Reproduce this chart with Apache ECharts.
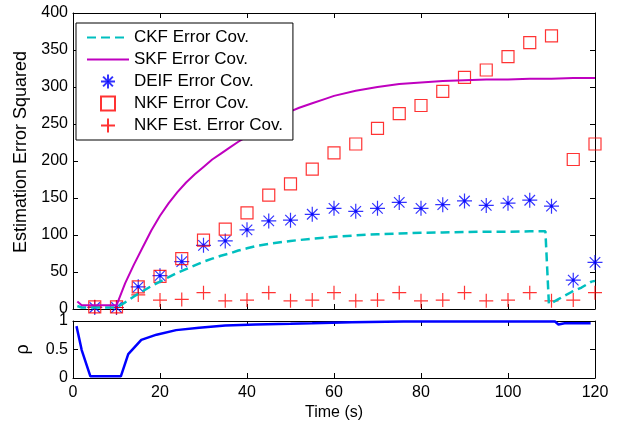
<!DOCTYPE html>
<html>
<head>
<meta charset="utf-8">
<script src="https://cdn.jsdelivr.net/npm/echarts@6/dist/echarts.min.js"></script>
<style>
  html, body { margin: 0; padding: 0; background: #fff; }
  #chart { width: 624px; height: 428px; }
</style>
</head>
<body>
<div id="chart"></div>
<script>
// SKF error covariance (solid magenta)
var tSkf = [1, 2, 3, 4, 5, 6, 7, 8, 9, 10, 12, 14, 16, 18, 20, 22, 24, 26, 28, 30, 32, 34, 36, 38, 40, 42, 45, 48, 50, 52, 55, 58, 60, 65, 70, 75, 80, 85, 90, 95, 100, 105, 110, 115, 120];
var skf = [10, 5, 5, 5, 5, 5, 5, 5, 5, 5, 35, 60, 83, 106, 126, 143, 158, 171, 182, 192, 202, 210, 218, 226, 233, 239, 250, 261, 267, 272, 278, 284, 288, 295, 300, 304, 306, 308, 309, 310, 310, 311, 311, 312, 312];

// CKF error covariance (dashed cyan)
var tCkf = [1, 2, 4, 6, 8, 10, 12, 14, 16, 18, 20, 22, 24, 26, 28, 30, 32, 34, 36, 38, 40, 42, 45, 50, 55, 60, 65, 70, 75, 80, 85, 90, 95, 100, 105, 108.6, 109.4, 110.3, 111.5, 113, 114.6, 116.9, 119.2, 120];
var ckf = [4, 2, 2, 2, 2, 2, 9, 17, 24, 31, 37, 43, 49, 54, 59, 64, 68, 72, 75, 79, 82, 85, 88, 92, 95, 97.5, 99.5, 101, 102, 103, 103.5, 104, 104.5, 104.5, 105, 105, 7, 9, 13, 18, 23, 29, 37, 38];

// marker series, sampled every 5 s
var tMarks = [5, 10, 15, 20, 25, 30, 35, 40, 45, 50, 55, 60, 65, 70, 75, 80, 85, 90, 95, 100, 105, 110, 115, 120];
var deif = [2, 2, 30, 45, 64, 86, 92, 107, 119, 120, 128, 136, 132, 136, 144, 136, 141, 146, 140, 143, 147, 139, 39, 63];
var nkf = [3, 3, 30, 44, 68, 93, 108, 130, 154, 169, 189, 211, 223, 244, 264, 275, 294, 313, 323, 341, 360, 369, 202, 223];
var nkfEst = [3, 2, 19, 12, 13, 22, 11, 12, 22, 11, 12, 22, 11, 12, 22, 11, 12, 22, 11, 12, 22, 11, 12, 22];

// correlation coefficient rho (lower panel)
var tRho = [0.8, 2, 4, 11, 12.7, 15.7, 19.2, 23.7, 29, 35, 42, 50, 55, 64, 76, 90, 100, 110.8, 111.6, 113, 119];
var rho = [0.91, 0.49, 0.03, 0.03, 0.42, 0.67, 0.76, 0.84, 0.88, 0.92, 0.94, 0.95, 0.96, 0.98, 0.99, 0.99, 0.99, 0.99, 0.94, 0.96, 0.96];

function pairs(xs, ys) {
  return xs.map(function (x, i) { return [x, ys[i]]; });
}

var font = 'Liberation Sans, Arial, Helvetica, sans-serif';
// asterisk with a small filled centre, plus sign, open square
var asterisk = 'path://M0,-10L0,10M-10,0L10,0M-7,-7L7,7M-7,7L7,-7M-1.6,-1.6L1.6,-1.6L1.6,1.6L-1.6,1.6Z';
var plus = 'path://M0,-10L0,10M-10,0L10,0';
var square = 'path://M-10,-10L10,-10L10,10L-10,10Z';
var hidden = { color: 'rgba(0,0,0,0)', borderColor: 'rgba(0,0,0,0)', borderWidth: 0 };

function xAx(grid, pos, labels) {
  return {
    type: 'value', gridIndex: grid, position: pos, min: 0, max: 120, interval: 20,
    axisLine: { show: true, onZero: false, lineStyle: { color: '#000', width: 1 } },
    axisTick: { show: true, inside: true, length: 5, lineStyle: { color: '#000' } },
    axisLabel: { show: labels, color: '#000', fontFamily: font, fontSize: 16, margin: 7 },
    splitLine: { show: false }
  };
}
function yAx(grid, pos, max, step, labels) {
  return {
    type: 'value', gridIndex: grid, position: pos, min: 0, max: max, interval: step,
    axisLine: { show: true, onZero: false, lineStyle: { color: '#000', width: 1 } },
    axisTick: { show: true, inside: true, length: 5, lineStyle: { color: '#000' } },
    axisLabel: { show: labels, color: '#000', fontFamily: font, fontSize: 16, margin: 5 },
    splitLine: { show: false }
  };
}

var chart = echarts.init(document.getElementById('chart'), null, { renderer: 'canvas' });

var xTopB = xAx(0, 'bottom', false);
var xTopT = xAx(0, 'top', false);
var xBotB = xAx(1, 'bottom', true);
xBotB.name = 'Time (s)';
xBotB.nameLocation = 'middle';
xBotB.nameGap = 27;
xBotB.nameTextStyle = { color: '#000', fontFamily: font, fontSize: 16 };
var xBotT = xAx(1, 'top', false);

var yTopL = yAx(0, 'left', 400, 50, true);
yTopL.name = 'Estimation Error Squared';
yTopL.nameLocation = 'middle';
yTopL.nameGap = 41;
// a little left padding lifts the label the way the original sits
yTopL.nameTextStyle = { color: '#000', fontFamily: font, fontSize: 18, padding: [0, 0, 0, 18] };
var yTopR = yAx(0, 'right', 400, 50, false);
var yBotL = yAx(1, 'left', 1, 0.5, true);
yBotL.name = 'ρ';
yBotL.nameLocation = 'middle';
yBotL.nameGap = 41;
yBotL.nameTextStyle = { color: '#000', fontFamily: font, fontSize: 18 };
var yBotR = yAx(1, 'right', 1, 0.5, false);

var option = {
  backgroundColor: '#fff',
  animation: false,
  grid: [
    { left: 73, right: 29, top: 13, height: 296 },
    { left: 73, right: 29, top: 321, height: 57 }
  ],
  xAxis: [xTopB, xTopT, xBotB, xBotT],
  yAxis: [yTopL, yTopR, yBotL, yBotR],
  legend: {
    orient: 'vertical',
    left: 76, top: 23,
    padding: [6, 10, 6, 10],
    itemWidth: 42, itemHeight: 14, itemGap: 5,
    backgroundColor: '#fff',
    borderColor: '#000', borderWidth: 1, borderRadius: 0,
    textStyle: { color: '#000', fontFamily: font, fontSize: 17 },
    data: [
      { name: 'CKF Error Cov.', itemStyle: hidden },
      { name: 'SKF Error Cov.', itemStyle: hidden },
      'DEIF Error Cov.', 'NKF Error Cov.', 'NKF Est. Error Cov.'
    ]
  },
  series: [
    {
      name: 'CKF Error Cov.', type: 'line', xAxisIndex: 0, yAxisIndex: 0,
      symbol: 'none', data: pairs(tCkf, ckf),
      lineStyle: { color: '#00bfbf', width: 2.5, type: [9, 5] },
      itemStyle: { color: '#00bfbf' }
    },
    {
      name: 'SKF Error Cov.', type: 'line', xAxisIndex: 0, yAxisIndex: 0,
      symbol: 'none', data: pairs(tSkf, skf),
      lineStyle: { color: '#bf00bf', width: 2 },
      itemStyle: { color: '#bf00bf' }
    },
    {
      name: 'DEIF Error Cov.', type: 'scatter', xAxisIndex: 0, yAxisIndex: 0,
      symbol: asterisk, symbolSize: 15, data: pairs(tMarks, deif),
      itemStyle: { color: '#0000ff', borderColor: '#0000ff', borderWidth: 1.2 }
    },
    {
      name: 'NKF Error Cov.', type: 'scatter', xAxisIndex: 0, yAxisIndex: 0,
      symbol: square, symbolSize: 12, data: pairs(tMarks, nkf),
      itemStyle: { color: 'rgba(0,0,0,0)', borderColor: '#ff0000', borderWidth: 1.2 }
    },
    {
      name: 'NKF Est. Error Cov.', type: 'scatter', xAxisIndex: 0, yAxisIndex: 0,
      symbol: plus, symbolSize: 14, data: pairs(tMarks, nkfEst),
      itemStyle: { color: 'rgba(0,0,0,0)', borderColor: '#ff0000', borderWidth: 1.2 }
    },
    {
      name: 'rho', type: 'line', xAxisIndex: 2, yAxisIndex: 2,
      symbol: 'none', data: pairs(tRho, rho),
      lineStyle: { color: '#0000ff', width: 2.5 }
    }
  ]
};

chart.setOption(option);
</script>
</body>
</html>
